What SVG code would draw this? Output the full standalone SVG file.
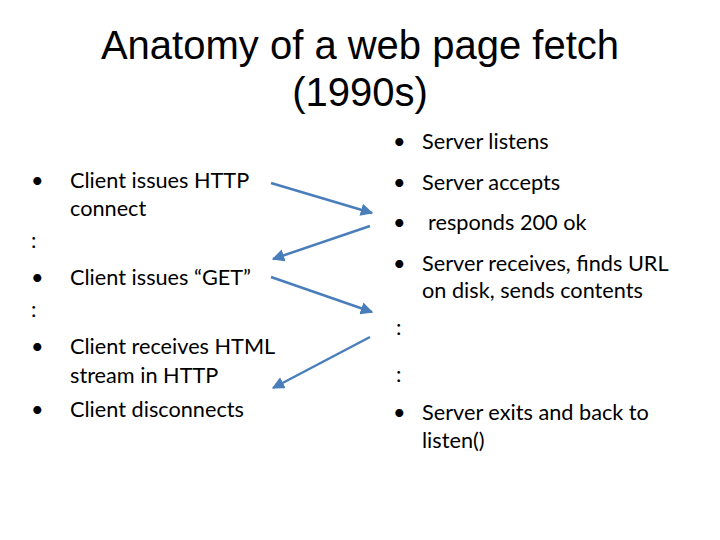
<svg xmlns="http://www.w3.org/2000/svg" width="720" height="540" viewBox="0 0 720 540">
<defs>
<style>
.t{font-family:"Liberation Sans",Arial,sans-serif;font-size:40px;fill:#000;text-anchor:middle}
.b{font-family:Lato,"Open Sans",sans-serif;font-size:21.7px;fill:#000}
.c{stroke:#4a7ebb;stroke-width:2.5;fill:none;marker-end:url(#ah)}
</style>
<marker id="ah" viewBox="0 0 10 10" refX="9" refY="5" markerWidth="5" markerHeight="5" orient="auto" markerUnits="strokeWidth">
<path d="M0,0 L10,5 L0,10 z" fill="#4a7ebb"/>
</marker>
</defs>
<rect width="720" height="540" fill="#fff"/>
<g id="title">
<text class="t" x="360" y="59">Anatomy of a web page fetch</text>
<text class="t" x="360" y="106">(1990s)</text>
</g>
<g id="client">
<text class="b" x="31" y="188">•</text><text class="b" x="70" y="188">Client issues HTTP</text>
<text class="b" x="70" y="216">connect</text>
<text class="b" x="31" y="248">:</text>
<text class="b" x="31" y="285">•</text><text class="b" x="70" y="285">Client issues “GET”</text>
<text class="b" x="31" y="317">:</text>
<text class="b" x="31" y="354">•</text><text class="b" x="70" y="354">Client receives HTML</text>
<text class="b" x="70" y="383">stream in HTTP</text>
<text class="b" x="31" y="417">•</text><text class="b" x="70" y="417">Client disconnects</text>
</g>
<g id="server">
<text class="b" x="393" y="149">•</text><text class="b" x="422" y="149">Server listens</text>
<text class="b" x="393" y="190">•</text><text class="b" x="422" y="190">Server accepts</text>
<text class="b" x="393" y="230">•</text><text class="b" x="428" y="230">responds 200 ok</text>
<text class="b" x="393" y="271">•</text><text class="b" x="422" y="271">Server receives, finds URL</text>
<text class="b" x="422" y="298">on disk, sends contents</text>
<text class="b" x="396" y="335">:</text>
<text class="b" x="396" y="382">:</text>
<text class="b" x="393" y="420">•</text><text class="b" x="422" y="420">Server exits and back to</text>
<text class="b" x="422" y="448">listen()</text>
</g>
<g id="connectors">
<line class="c" x1="271" y1="183" x2="372" y2="213"/>
<line class="c" x1="370" y1="226" x2="273" y2="259"/>
<line class="c" x1="271" y1="277" x2="372" y2="312"/>
<line class="c" x1="370" y1="337" x2="273" y2="388"/>
</g>
</svg>
